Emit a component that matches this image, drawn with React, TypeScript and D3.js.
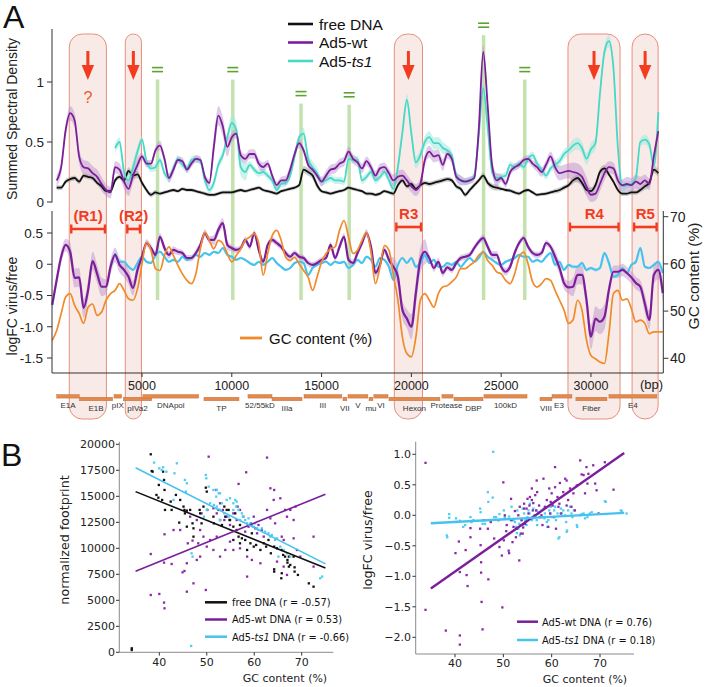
import React from "react";
import * as d3 from "d3";

// ---- panel A: smoothed tracks along the Ad5 genome, one value every STEP bp ----
const STEP = 250;

const wtSsdStart = 250;
const wtSsd = [
  0.18, 0.29, 0.6, 0.74, 0.68, 0.38, 0.29, 0.28,
  0.24, 0.21, 0.15, 0.1, 0.08, 0.29, 0.27, 0.17,
  0.11, 0.22, 0.31, 0.38, 0.32, 0.32, 0.43, 0.47,
  0.36, 0.2, 0.27, 0.35, 0.34, 0.27, 0.32, 0.36,
  0.35, 0.21, 0.16, 0.46, 0.72, 0.63, 0.46, 0.54,
  0.57, 0.39, 0.36, 0.4, 0.4, 0.32, 0.29, 0.32,
  0.22, 0.14, 0.18, 0.18, 0.27, 0.4, 0.49, 0.43,
  0.31, 0.27, 0.22, 0.17, 0.22, 0.27, 0.28, 0.32,
  0.34, 0.42, 0.36, 0.33, 0.28, 0.34, 0.29, 0.22,
  0.28, 0.29, 0.24, 0.18, 0.21, 0.22, 0.18, 0.13,
  0.1, 0.15, 0.35, 0.42, 0.38, 0.39, 0.31, 0.4,
  0.36, 0.21, 0.18, 0.17, 0.18, 0.2, 0.6, 1.25,
  0.8, 0.3, 0.18, 0.2, 0.15, 0.25, 0.29, 0.31,
  0.35, 0.36, 0.32, 0.29, 0.25, 0.31, 0.38, 0.29,
  0.24, 0.25, 0.26, 0.25, 0.24, 0.21, 0.13, 0.06,
  0.07, 0.15, 0.24, 0.29, 0.28, 0.18, 0.14, 0.15,
  0.14, 0.17, 0.15, 0.18, 0.15, 0.38, 0.59,
];

const freeSsdStart = 250;
const freeSsd = [
  0.12, 0.12, 0.17, 0.19, 0.2, 0.17, 0.22, 0.21,
  0.2, 0.16, 0.13, 0.09, 0.09, 0.18, 0.21, 0.18,
  0.26, 0.22, 0.23, 0.16, 0.1, 0.06, 0.08, 0.07,
  0.08, 0.09, 0.1, 0.09, 0.11, 0.1, 0.1, 0.09,
  0.08, 0.07, 0.06, 0.06, 0.07, 0.08, 0.08, 0.08,
  0.09, 0.1, 0.09, 0.1, 0.11, 0.12, 0.1, 0.09,
  0.08, 0.07, 0.09, 0.1, 0.11, 0.12, 0.14, 0.27,
  0.25, 0.22, 0.14, 0.09, 0.08, 0.07, 0.08, 0.09,
  0.1, 0.12, 0.11, 0.1, 0.09, 0.07, 0.07, 0.06,
  0.07, 0.09, 0.08, 0.07, 0.14, 0.18, 0.13, 0.15,
  0.11, 0.14, 0.16, 0.15, 0.16, 0.17, 0.18, 0.19,
  0.18, 0.13, 0.11, 0.06, 0.1, 0.14, 0.18, 0.22,
  0.16, 0.13, 0.12, 0.11, 0.1, 0.095, 0.08, 0.07,
  0.09, 0.1, 0.08, 0.06, 0.065, 0.07, 0.08, 0.09,
  0.1, 0.12, 0.14, 0.18, 0.2, 0.16, 0.1, 0.09,
  0.14, 0.25, 0.28, 0.23, 0.17, 0.1, 0.07, 0.07,
  0.08, 0.08, 0.1, 0.13, 0.16, 0.27, 0.24,
];

const ts1SsdStart = 3500;
const ts1Ssd = [
  0.45, 0.5, 0.25, 0.18, 0.29, 0.42, 0.52, 0.34,
  0.28, 0.29, 0.35, 0.24, 0.2, 0.28, 0.36, 0.31,
  0.28, 0.35, 0.36, 0.34, 0.18, 0.1, 0.16, 0.31,
  0.39, 0.54, 0.66, 0.6, 0.29, 0.25, 0.31, 0.27,
  0.24, 0.25, 0.22, 0.18, 0.1, 0.15, 0.16, 0.22,
  0.38, 0.54, 0.57, 0.36, 0.29, 0.24, 0.17, 0.18,
  0.2, 0.18, 0.18, 0.17, 0.36, 0.35, 0.35, 0.18,
  0.21, 0.25, 0.18, 0.21, 0.25, 0.18, 0.11, 0.29,
  0.58, 0.85, 0.57, 0.33, 0.39, 0.5, 0.54, 0.49,
  0.49, 0.45, 0.43, 0.39, 0.22, 0.18, 0.17, 0.18,
  0.22, 0.55, 0.95, 0.62, 0.25, 0.2, 0.21, 0.22,
  0.31, 0.29, 0.32, 0.29, 0.36, 0.39, 0.32, 0.27,
  0.22, 0.28, 0.31, 0.34, 0.4, 0.43, 0.47, 0.49,
  0.45, 0.36, 0.44, 0.49, 0.9, 1.25, 1.34, 1.12,
  0.45, 0.13, 0.14, 0.15, 0.2, 0.5, 0.52, 0.48,
  0.3, 0.75,
];

const wtFcStart = 0;
const wtFc = [
  -0.65, -0.25, 0.12, 0.31, 0.2, -0.22, -0.21, -0.7,
  -0.41, 0.05, -0.15, -0.36, -0.36, -0.04, 0.15, -0.01,
  -0.09, -0.2, -0.38, -0.09, 0.12, 0.34, 0.26, 0.15,
  0.44, 0.26, 0.15, 0.23, 0.2, 0.18, 0.1, 0.1,
  0.18, 0.31, 0.5, 0.39, 0.39, 0.55, 0.66, 0.31,
  0.26, 0.23, 0.26, 0.39, 0.28, 0.5, 0.23, 0.04,
  0.31, 0.39, 0.34, 0.28, 0.18, 0.12, 0.18, 0.12,
  0.1, 0.02, -0.01, 0.02, 0.07, 0.1, 0.31, 0.1,
  0.28, 0.44, 0.07, 0.02, 0.18, 0.34, 0.5, 0.28,
  -0.14, -0.01, 0.23, 0.07, -0.04, -0.2, -0.73, -0.87,
  -1.0, -0.46, 0.07, 0.2, 0.1, -0.06, 0.04, -0.14,
  -0.05, -0.09, 0.02, 0.1, 0.12, 0.15, 0.26, 0.36,
  0.42, 0.28, 0.15, 0.15, -0.04, -0.12, -0.04, 0.18,
  0.34, 0.42, 0.28, 0.18, 0.15, 0.18, 0.34, 0.28,
  0.12, -0.06, -0.3, -0.37, -0.36, -0.17, -0.17, -0.57,
  -1.16, -0.87, -0.92, -0.84, -0.41, -0.12, -0.12, -0.09,
  -0.14, -0.21, -0.3, -0.36, -0.63, -0.89, -0.17, -0.09,
  -0.46,
];

const ts1FcStart = 3500;
const ts1Fc = [
  0.18, 0.04, 0.04, -0.04, -0.09, 0.02, 0.12, 0.04,
  0.02, 0.15, 0.2, 0.12, 0.04, 0.07, 0.04, 0.12,
  0.07, 0.1, 0.15, 0.12, 0.18, 0.15, 0.2, 0.18,
  0.26, 0.15, 0.12, 0.07, 0.1, 0.07, 0.02, -0.01,
  0.04, -0.01, 0.04, 0.1, 0.02, -0.04, -0.09, -0.06,
  0.02, 0.04, 0.02, -0.17, -0.06, -0.01, 0.02, 0.04,
  -0.01, 0.04, 0.02, 0.04, -0.06, -0.01, 0.07, 0.02,
  0.12, 0.07, -0.04, 0.1, 0.07, -0.04, -0.25, -0.01,
  0.1, 0.02, 0.1, -0.04, 0.02, 0.15, 0.02, 0.07,
  -0.04, -0.04, 0.02, -0.01, 0.04, -0.04, 0.04, 0.1,
  0.04, 0.1, 0.2, 0.12, 0.07, 0.02, -0.01, 0.04,
  0.07, 0.1, 0.15, 0.12, 0.12, 0.04, 0.07, 0.04,
  0.12, 0.18, -0.01, 0.04, -0.09, -0.01, -0.04, -0.04,
  0.02, -0.09, -0.06, -0.09, -0.06, 0.18, 0.02, -0.2,
  -0.17, -0.06, -0.14, -0.01, 0.04, 0.26, -0.04, -0.06,
  -0.01, 0.04, -0.14,
];

const gcStart = 0;
const gcContent = [
  43.8, 45.9, 49.5, 53, 53.7, 51.2, 49.5, 47.4,
  50.8, 51.5, 49.1, 49.8, 52.3, 53.7, 54.4, 55.8,
  54.4, 52.6, 52.3, 54.7, 60, 64.6, 62.9, 59,
  58.6, 61.8, 63.6, 61.8, 59.7, 57.9, 56.5, 55.8,
  57.9, 63.2, 66.7, 65, 63.2, 65, 64.3, 62.2,
  60.4, 61.8, 63.2, 65, 65.7, 66.4, 64.3, 57.6,
  62.2, 66, 67.1, 65, 61.4, 60.7, 61.4, 60,
  58.6, 57.2, 54.4, 57.2, 60.4, 62.2, 63.2, 63.6,
  67.1, 69.2, 65.7, 62.2, 62.9, 65, 66.7, 62.5,
  55.8, 59.3, 63.9, 62.9, 57.6, 52.3, 44.5, 41,
  40.3, 44.5, 52.3, 53.7, 52.3, 50.8, 53.7, 55.1,
  55.4, 56.2, 57.2, 59, 59, 59.7, 60.4, 61.8,
  62.5, 60.7, 59.7, 58.3, 57.9, 56.5, 55.8, 57.9,
  61.4, 62.5, 60, 56.2, 55.1, 55.8, 56.9, 56.5,
  54.4, 52.3, 50.2, 47.4, 48.1, 52.3, 50.2, 43.9,
  40.6, 39.9, 39.2, 38.9, 45.2, 53.7, 54.4, 52.3,
  52.6, 50.5, 47.7, 48.1, 47.4, 45.2, 45.6, 45.6,
  45.6,
];

// half widths of the shaded bands, one per kb
const wtSsdBand = [0.05, 0.06, 0.06, 0.05, 0.06, 0.03, 0.04, 0.03, 0.03, 0.08, 0.04, 0.04, 0.03, 0.04, 0.03, 0.04, 0.04, 0.04, 0.04, 0.05, 0.05, 0.05, 0.04, 0.03, 0.06, 0.03, 0.03, 0.04, 0.06, 0.08, 0.06, 0.05, 0.06, 0.05, 0.05];
const freeSsdBand = [0.02, 0.02, 0.02, 0.02, 0.03, 0.02, 0.015, 0.015, 0.015, 0.015, 0.015, 0.015, 0.015, 0.015, 0.03, 0.015, 0.015, 0.015, 0.015, 0.02, 0.02, 0.02, 0.02, 0.02, 0.025, 0.015, 0.015, 0.015, 0.02, 0.03, 0.03, 0.02, 0.02, 0.03, 0.03];
const ts1SsdBand = [0.03, 0.03, 0.03, 0.04, 0.05, 0.03, 0.03, 0.03, 0.03, 0.04, 0.07, 0.03, 0.03, 0.03, 0.05, 0.03, 0.03, 0.03, 0.03, 0.05, 0.05, 0.05, 0.04, 0.03, 0.04, 0.03, 0.03, 0.03, 0.04, 0.05, 0.05, 0.05, 0.03, 0.04, 0.05];
const wtFcBand = [0.1, 0.15, 0.15, 0.12, 0.12, 0.06, 0.06, 0.05, 0.06, 0.08, 0.05, 0.05, 0.05, 0.05, 0.05, 0.05, 0.06, 0.06, 0.06, 0.15, 0.2, 0.06, 0.05, 0.05, 0.06, 0.06, 0.05, 0.05, 0.1, 0.15, 0.2, 0.1, 0.1, 0.15, 0.15];
const ts1FcBand = [0.02, 0.02, 0.02, 0.02, 0.02, 0.02, 0.02, 0.02, 0.02, 0.02, 0.02, 0.02, 0.02, 0.02, 0.02, 0.02, 0.02, 0.02, 0.02, 0.02, 0.03, 0.02, 0.02, 0.02, 0.02, 0.02, 0.02, 0.02, 0.02, 0.03, 0.03, 0.03, 0.02, 0.02, 0.02];

// highlighted regions (bp)
const regionNames = ["(R1)", "(R2)", "R3", "R4", "R5"];
const regionStart = [950, 4070, 19050, 28720, 32290];
const regionEnd = [3020, 4970, 20620, 31620, 33740];

// conserved peaks marked with "="
const markerBp = [5866, 10056, 13855, 16536, 24022, 26313];
const markerTop = [1.02, 1.02, 0.82, 0.81, 1.39, 1.02];

// Ad5 transcription units
const geneNames = ["E1A", "E1B", "pIX", "pIVa2", "DNApol", "TP", "52/55kD", "IIIa", "III", "VII", "V", "mu", "VI", "Hexon", "Protease", "DBP", "100kD", "VIII", "E3", "Fiber", "E4"];
const geneStart = [250, 1510, 3440, 3960, 5050, 8450, 10900, 12240, 14020, 16190, 16470, 17640, 17910, 18750, 21700, 22370, 24040, 27160, 27830, 29160, 31000];
const geneEnd = [1510, 3370, 3870, 5540, 8160, 10400, 12240, 13910, 16130, 16410, 17580, 17860, 18700, 21590, 22320, 23990, 26440, 27830, 28940, 30890, 33670];
const geneRow = [0, 1, 0, 1, 0, 1, 0, 1, 0, 1, 0, 1, 0, 1, 0, 1, 0, 1, 0, 1, 0];

const bpTicks = [5000, 10000, 15000, 20000, 25000, 30000];

// ---- panel B: 1-kb windows, GC content vs footprint / logFC ----
const fitGc = [35, 75];
const fitFree = [15450, 8100];
const fitWt = [7800, 15200];
const fitTs1 = [17750, 8500];
const fitWtFc = [-1.2, 1.02];
const fitTs1Fc = [-0.13, 0.04];

const footFree: [number, number][] = [
  [38.2, 19040], [38.4, 17430], [38.6, 17370], [40.8, 17370], [41.0, 16570], [39.9, 16090], [39.4, 15130], [39.8, 14870],
  [41.1, 15610], [41.2, 13690], [42.4, 14490], [42.6, 13690], [40.6, 14650], [43.5, 15130], [44.4, 14650], [45.1, 14010],
  [45.3, 13690], [45.4, 13360], [45.8, 13620], [46.5, 13690], [47.0, 12400], [47.2, 11920], [48.5, 13690], [48.6, 13360],
  [48.9, 12400], [49.3, 14010], [49.8, 15830], [50.0, 15450], [50.1, 13690], [51.4, 13040], [51.5, 12400], [52.5, 13690],
  [52.8, 12720], [53.2, 12240], [53.7, 14010], [53.9, 13040], [54.2, 13690], [54.6, 13690], [54.9, 12720], [55.6, 10800],
  [56.0, 13360], [56.3, 11760], [56.7, 11120], [57.0, 10480], [57.4, 10960], [58.1, 10800], [58.5, 9840], [59.2, 10480],
  [59.5, 11440], [59.9, 10160], [60.4, 10320], [61.3, 9840], [62.0, 10480], [62.5, 10160], [63.0, 10800], [63.5, 9520],
  [64.2, 10160], [64.8, 10000], [65.8, 9840], [66.1, 9360], [66.5, 9200], [67.0, 8880], [67.3, 9200], [64.2, 7980],
  [64.2, 7760], [65.8, 7600], [65.7, 7120], [67.0, 8620], [67.3, 8240], [67.6, 8400], [68.5, 8170], [68.5, 7760],
  [71.5, 6630], [72.5, 6310], [68.3, 9200], [69.2, 7440], [47.2, 11120], [44.2, 12470], [45.8, 12080], [54.8, 12720],
  [55.6, 12080], [57.0, 12240], [34.2, 385], [34.2, 220],
];

const footWt: [number, number][] = [
  [50.4, 18810], [62.7, 18720], [58.3, 17310], [56.7, 16190], [63.4, 15770], [64.2, 15610], [52.0, 15610], [67.6, 13690],
  [38.2, 9450], [41.0, 8620], [42.6, 8490], [41.1, 11350], [38.2, 5510], [40.0, 5610], [41.0, 4780], [41.1, 4230],
  [44.9, 7690], [45.3, 7820], [47.2, 6630], [45.8, 5830], [49.8, 5990], [50.0, 10160], [51.4, 13850], [52.1, 13360],
  [52.8, 14330], [53.4, 13690], [53.7, 12720], [54.2, 13040], [54.9, 12240], [55.6, 13360], [56.3, 12720], [56.5, 14010],
  [57.0, 13690], [57.7, 13040], [58.1, 11600], [58.8, 12080], [59.3, 12400], [59.9, 13040], [60.2, 11920], [60.6, 11440],
  [60.9, 12240], [61.6, 11760], [62.0, 11120], [62.7, 13690], [63.4, 12880], [64.1, 14650], [64.4, 12400], [65.5, 14810],
  [65.8, 11120], [66.2, 10800], [66.5, 13690], [66.9, 13040], [68.3, 12720], [68.7, 14010], [68.3, 10960], [69.0, 9840],
  [72.5, 11120], [47.9, 12720], [48.6, 11760], [49.3, 11120], [50.7, 10800], [51.4, 9840], [52.1, 11120], [48.9, 13360],
  [52.8, 9200], [53.9, 9840], [46.5, 13040], [47.0, 10740], [46.0, 10480], [44.4, 11760], [43.0, 11760], [48.2, 10480],
  [54.9, 10640], [55.6, 9840], [57.0, 10000], [58.5, 9200], [47.9, 8880], [45.8, 8560], [48.6, 9200], [59.5, 8880],
  [61.3, 8560], [64.8, 8720], [66.2, 8240], [66.9, 7440], [58.5, 7280], [69.7, 9200], [72.5, 8240],
];

const footTs1: [number, number][] = [
  [38.9, 18240], [40.0, 17690], [40.5, 17530], [41.5, 17370], [40.8, 17790], [43.7, 18170], [43.2, 17210], [43.0, 14650],
  [45.4, 16570], [45.8, 16250], [45.6, 15450], [46.8, 9520], [47.0, 9200], [49.8, 17050], [49.9, 16730], [50.4, 15930],
  [51.4, 15610], [52.1, 15610], [52.5, 15290], [52.8, 15290], [52.0, 14970], [51.5, 14170], [52.1, 14010], [52.8, 13690],
  [53.2, 14330], [54.2, 14650], [54.9, 14810], [55.6, 14330], [56.0, 14650], [56.2, 14010], [56.7, 13690], [57.0, 12720],
  [57.4, 13360], [57.6, 13040], [58.1, 12720], [58.5, 12400], [58.8, 12880], [59.2, 12400], [59.5, 12240], [59.9, 12080],
  [60.2, 12400], [60.6, 11920], [60.9, 11760], [61.6, 11920], [62.3, 11600], [63.0, 11440], [63.4, 11120], [63.7, 11280],
  [64.4, 10800], [64.8, 10960], [65.5, 10160], [66.2, 9840], [66.9, 9520], [65.1, 9200], [67.6, 9200], [73.9, 7120],
  [74.3, 7280], [46.7, 610], [55.6, 13690], [56.3, 14490], [50.7, 14330], [50.0, 13690], [49.4, 13040], [52.8, 12720],
  [53.7, 13360], [54.6, 13040],
];

const fcWt: [number, number][] = [
  [33.9, 0.86], [33.9, -1.55], [38.1, -1.89], [40.1, -0.62], [40.8, -0.43], [41.0, -0.93], [41.0, -1.97], [41.0, -2.12],
  [42.2, -0.57], [42.4, -0.98], [42.6, -1.16], [43.2, -0.36], [43.2, -0.21], [45.2, -0.22], [45.3, -0.49], [45.4, -0.77],
  [45.4, -0.94], [45.5, -1.42], [45.7, -1.87], [45.9, -0.08], [46.8, -0.22], [46.9, -1.05], [47.4, -0.11], [48.1, -0.38],
  [49.0, -0.08], [49.2, -0.52], [49.7, -0.66], [49.8, -1.51], [50.0, 0.54], [50.1, -0.41], [50.3, 0], [50.6, -0.26],
  [50.7, -0.16], [51.1, -0.58], [51.2, -0.62], [51.6, 0.27], [51.7, -0.08], [51.9, -0.44], [52.1, -0.19], [52.4, 0.07],
  [52.6, -0.36], [52.8, -0.22], [53.1, 0], [53.3, -0.74], [53.4, 0.14], [53.6, -0.3], [53.8, -0.08], [54.0, -0.3],
  [54.1, -0.2], [54.3, 0.11], [54.3, 0.19], [54.5, -0.14], [54.8, 0.11], [55.0, 0.27], [55.2, 0.03], [55.4, 0.16],
  [55.5, 0.3], [55.9, 0.25], [55.9, 0.44], [56.1, 0.08], [56.2, 0.2], [56.6, 0.33], [56.8, 0.08], [56.9, 0.57],
  [57.0, 0.38], [57.4, 0.16], [57.6, -0.03], [57.9, 0], [58.1, -0.16], [58.3, 0.6], [58.6, 0.14], [59.0, 0.25],
  [59.3, -0.19], [59.5, 0.44], [59.7, 0.03], [59.8, 0.22], [60.0, 0.36], [60.2, 0.16], [60.5, -0.03], [60.7, 0.79],
  [60.7, 0.46], [60.9, -0.22], [61.2, 0.3], [61.4, 0.14], [61.6, 0.19], [61.7, 0.53], [61.9, 0.03], [62.4, 0.38],
  [62.8, 0.6], [63.1, 0.57], [63.1, 0.16], [63.4, 0.25], [63.8, 0.44], [64.1, 0.14], [64.5, 0.36], [64.8, 0.08],
  [65.2, 0.49], [65.9, 0.9], [66.2, 0.67], [66.6, 0.66], [66.9, 0.36], [67.2, 0.79], [67.6, 0.68], [67.4, 0.52],
  [68.6, 0.82], [69.0, 0.52], [69.3, 0.41], [69.7, 0.03], [71.0, 0.87], [72.8, 0.42],
];

const fcTs1: [number, number][] = [
  [38.3, -0.33], [38.4, -0.36], [38.8, 0.02], [38.8, -0.04], [40.2, -0.05], [40.3, -0.11], [41.0, -0.09], [41.7, -0.19],
  [42.1, -0.16], [43.2, -0.03], [43.4, -0.11], [43.8, -0.08], [45.2, 0.11], [45.3, 0.05], [45.7, -0.14], [46.2, -0.14],
  [46.8, 0.38], [46.9, 0.22], [47.8, 0.29], [47.9, 1.04], [48.1, -0.03], [48.5, -0.03], [49.2, 0.02], [50.1, 0.08],
  [50.3, -0.03], [51.2, -0.02], [51.5, -0.08], [51.7, 0.14], [52.1, -0.08], [52.4, -0.11], [52.6, -0.19], [52.8, -0.29],
  [52.9, 0.08], [53.1, -0.22], [53.3, -0.14], [53.4, -0.33], [53.7, -0.08], [54.0, 0.11], [54.1, -0.16], [54.3, 0.03],
  [54.5, -0.09], [54.7, -0.08], [54.8, -0.16], [55.0, -0.03], [55.2, 0.08], [55.4, 0.03], [55.5, 0.19], [55.9, -0.08],
  [56.1, -0.05], [56.2, 0.11], [56.4, 0], [56.6, -0.03], [56.8, 0.08], [56.9, -0.08], [57.0, -0.16], [57.2, 0.05],
  [57.4, 0.03], [57.6, -0.03], [57.9, 0.08], [58.1, -0.03], [58.3, 0.11], [58.5, -0.05], [58.6, 0.03], [59.0, -0.11],
  [59.1, -0.19], [59.3, -0.08], [59.5, 0.08], [59.7, 0.03], [59.8, 0.14], [60.0, -0.03], [60.2, 0.19], [60.5, 0.08],
  [60.7, 0.14], [60.9, -0.08], [61.2, 0.03], [61.4, -0.38], [61.6, -0.36], [61.9, 0.11], [62.1, 0.03], [62.4, 0.08],
  [62.8, 0], [63.0, -0.11], [63.1, -0.27], [63.2, -0.25], [63.4, 0.08], [63.8, 0.14], [64.1, 0.03], [64.3, -0.03],
  [64.6, 0.08], [65.2, -0.16], [65.3, -0.19], [65.9, 0], [66.2, 0.02], [66.6, 0.03], [66.9, -0.05], [67.4, -0.03],
  [67.9, 0.03], [68.3, 0.05], [71.0, 0.23], [71.2, 0.22], [74.3, 0.08], [74.5, 0.07], [75.5, 0.03],
];

const footTicks = [0, 2500, 5000, 7500, 10000, 12500, 15000, 17500, 20000];
const fcTicks = [-2, -1.5, -1, -0.5, 0, 0.5, 1];
const gcTicks = [40, 50, 60, 70];

// ---- styling ----
const FONT = "'Liberation Sans', Arial, Helvetica, sans-serif";
const FONT_B = "'DejaVu Sans', Verdana, sans-serif";
const PURPLE = "#7b1e9a";
const TURQ = "#48d8c6";
const SKY = "#46c2ef";
const ORANGE = "#f08a2a";
const RED = "#f23b1f";
const AXIS = "#333";
const AXIS_B = "#8a8a8a";

const bandAt = (band: number[], bp: number) => band[Math.min(band.length - 1, Math.floor(bp / 1000))];

// small nudges so neighbouring gene names do not collide
const geneLabelNudge: Record<string, number> = { DBP: 5, E3: -3, Protease: -1 };

export default function App() {
  const x = d3.scaleLinear().domain([0, 34000]).range([52.2, 662.8]);
  const ySsd = d3.scaleLinear().domain([0, 1]).range([202, 82]);
  const yFc = d3.scaleLinear().domain([-1.5, 0.5]).range([358, 233]);
  const yGc = d3.scaleLinear().domain([40, 70]).range([358.3, 216.7]);

  const track = (start: number, vals: number[], y: d3.ScaleLinear<number, number>) =>
    d3.line<number>()
      .x((_, i) => x(start + i * STEP))
      .y((v) => y(v))
      .curve(d3.curveMonotoneX)(vals) || "";

  const band = (start: number, vals: number[], hw: number[], y: d3.ScaleLinear<number, number>) =>
    d3.area<number>()
      .x((_, i) => x(start + i * STEP))
      .y0((v, i) => y(v - bandAt(hw, start + i * STEP)))
      .y1((v, i) => y(v + bandAt(hw, start + i * STEP)))
      .curve(d3.curveMonotoneX)(vals) || "";

  // panel B scales
  const xL = d3.scaleLinear().domain([40, 70]).range([159.3, 301.7]);
  const yL = d3.scaleLinear().domain([0, 20000]).range([652.3, 444.3]);
  const xR = d3.scaleLinear().domain([40, 70]).range([455, 600]);
  const yR = d3.scaleLinear().domain([-2, 1]).range([637.3, 454.3]);

  const boxTop = 34;
  const boxBottom = 419;

  const dot = (px: number, py: number, color: string, key: string) => (
    <rect key={key} x={px - 1.15} y={py - 1.15} width={2.3} height={2.3} fill={color} />
  );

  const fmtFc = (v: number) => (v < 0 ? "\u2212" : "") + Math.abs(v).toFixed(1);

  return (
    <svg
      width={705}
      height={687}
      style={{ position: "absolute", left: 0, top: 0, background: "#fff" }}
      fontFamily={FONT}
    >
      <rect width={705} height={687} fill="#fff" />

      {/* highlighted regions */}
      {regionStart.map((s, i) => {
        const x0 = x(s);
        const w = x(regionEnd[i]) - x0;
        const r = Math.min(13, w / 2);
        return (
          <rect key={"box" + i} x={x0} y={boxTop} width={w} height={boxBottom - boxTop} rx={r} ry={r}
            fill="#f3d9d2" fillOpacity={0.55} stroke="#e7907f" strokeWidth={1} />
        );
      })}

      {/* conserved peak markers */}
      {markerBp.map((bp, i) => (
        <g key={"mk" + i}>
          <line x1={x(bp)} x2={x(bp)} y1={ySsd(markerTop[i])} y2={300} stroke="#c3e2ad" strokeWidth={3.5} />
          <line x1={x(bp) - 5.5} x2={x(bp) + 5.5} y1={ySsd(markerTop[i]) - 12} y2={ySsd(markerTop[i]) - 12} stroke="#5ca32f" strokeWidth={1.6} />
          <line x1={x(bp) - 5.5} x2={x(bp) + 5.5} y1={ySsd(markerTop[i]) - 8} y2={ySsd(markerTop[i]) - 8} stroke="#5ca32f" strokeWidth={1.6} />
        </g>
      ))}

      {/* red arrows */}
      {regionStart.map((s, i) => {
        const cx = x((s + regionEnd[i]) / 2);
        return (
          <g key={"ar" + i}>
            <line x1={cx} x2={cx} y1={51} y2={68} stroke={RED} strokeWidth={3} />
            <polygon points={`${cx - 6.2},65 ${cx + 6.2},65 ${cx},80`} fill={RED} />
          </g>
        );
      })}
      <text x={x((regionStart[0] + regionEnd[0]) / 2)} y={103} fontSize={16} fill="#f0552c" textAnchor="middle">?</text>

      {/* top panel: summed spectral density */}
      <path d={band(freeSsdStart, freeSsd, freeSsdBand, ySsd)} fill="#9a9a9a" fillOpacity={0.5} />
      <path d={band(ts1SsdStart, ts1Ssd, ts1SsdBand, ySsd)} fill="#9fe9df" fillOpacity={0.55} />
      <path d={band(wtSsdStart, wtSsd, wtSsdBand, ySsd)} fill="#b98ccc" fillOpacity={0.45} />
      <path d={track(freeSsdStart, freeSsd, ySsd)} fill="none" stroke="#111" strokeWidth={1.8} />
      <path d={track(ts1SsdStart, ts1Ssd, ySsd)} fill="none" stroke={TURQ} strokeWidth={1.8} />
      <path d={track(wtSsdStart, wtSsd, ySsd)} fill="none" stroke={PURPLE} strokeWidth={1.8} />

      <line x1={52} x2={52} y1={29} y2={202.5} stroke={AXIS} />
      {[0, 0.5, 1].map((t) => (
        <g key={"ts" + t}>
          <line x1={47} x2={52} y1={ySsd(t)} y2={ySsd(t)} stroke={AXIS} />
          <text x={44} y={ySsd(t) + 4.8} fontSize={13.5} textAnchor="end" fill="#222">{t}</text>
        </g>
      ))}
      <text transform="translate(17,119) rotate(-90)" fontSize={14} textAnchor="middle" fill="#222">Summed Spectral Density</text>

      {/* legend, top panel */}
      {[["free DNA", "#111"], ["Ad5-wt", PURPLE], ["Ad5-", TURQ]].map(([label, c], i) => (
        <g key={"lg" + i}>
          <line x1={288} x2={313} y1={24 + i * 18.5} y2={24 + i * 18.5} stroke={c} strokeWidth={2.6} />
          <text x={319} y={24 + i * 18.5 + 5.5} fontSize={15.5} fill="#111">
            {label}
            {i === 2 && <tspan fontStyle="italic">ts1</tspan>}
          </text>
        </g>
      ))}

      {/* bottom panel: logFC and GC content */}
      <path d={band(wtFcStart, wtFc, wtFcBand, yFc)} fill="#b98ccc" fillOpacity={0.45} />
      <path d={band(ts1FcStart, ts1Fc, ts1FcBand, yFc)} fill="#a8def5" fillOpacity={0.5} />
      <path d={track(ts1FcStart, ts1Fc, yFc)} fill="none" stroke={SKY} strokeWidth={2.2} />
      <path d={track(wtFcStart, wtFc, yFc)} fill="none" stroke={PURPLE} strokeWidth={2.2} />
      <path d={track(gcStart, gcContent, yGc)} fill="none" stroke={ORANGE} strokeWidth={1.7} />

      {/* region bars */}
      {regionStart.map((s, i) => {
        const x0 = x(s) + 2;
        const x1 = x(regionEnd[i]) - 1.5;
        const yb = i < 2 ? 229 : 227;
        return (
          <g key={"rb" + i}>
            <line x1={x0} x2={x1} y1={yb} y2={yb} stroke={RED} strokeWidth={2.6} />
            <line x1={x0} x2={x0} y1={yb - 4.5} y2={yb + 4.5} stroke={RED} strokeWidth={2.4} />
            <line x1={x1} x2={x1} y1={yb - 4.5} y2={yb + 4.5} stroke={RED} strokeWidth={2.4} />
            <text x={(x0 + x1) / 2} y={yb - 8.5} fontSize={15} fontWeight="bold" fill={RED} textAnchor="middle">
              {regionNames[i]}
            </text>
          </g>
        );
      })}

      <line x1={52} x2={52} y1={211} y2={373} stroke={AXIS} />
      <line x1={52} x2={663.3} y1={373} y2={373} stroke={AXIS} />
      <line x1={663.3} x2={663.3} y1={211} y2={373} stroke={AXIS} />
      {[0.5, 0, -0.5, -1, -1.5].map((t) => (
        <g key={"tf" + t}>
          <line x1={47} x2={52} y1={yFc(t)} y2={yFc(t)} stroke={AXIS} />
          <text x={43} y={yFc(t) + 4.8} fontSize={13.5} textAnchor="end" fill="#222">
            {t === 0 ? "0" : t === 0.5 ? "0.5" : t.toFixed(1)}
          </text>
        </g>
      ))}
      {[40, 50, 60, 70].map((t) => (
        <g key={"tg" + t}>
          <line x1={663.3} x2={668.3} y1={yGc(t)} y2={yGc(t)} stroke={AXIS} />
          <text x={670} y={yGc(t) + 5} fontSize={14} fill="#222">{t}</text>
        </g>
      ))}
      <text transform="translate(17,306) rotate(-90)" fontSize={14} textAnchor="middle" fill="#222">logFC virus/free</text>
      <text transform="translate(699,276) rotate(-90)" fontSize={15.5} textAnchor="middle" fill="#222">GC content (%)</text>

      <line x1={240} x2={262} y1={338} y2={338} stroke={ORANGE} strokeWidth={2.8} />
      <text x={269} y={343.5} fontSize={15} fill="#111">GC content (%)</text>

      {bpTicks.map((t) => (
        <g key={"tb" + t}>
          <line x1={x(t)} x2={x(t)} y1={373} y2={377} stroke={AXIS} />
          <text x={x(t)} y={390} fontSize={12.5} textAnchor="middle" fill="#222">{t}</text>
        </g>
      ))}
      <text x={663} y={388.5} fontSize={13} textAnchor="end" fill="#222">(bp)</text>

      {/* genome map */}
      {geneNames.map((g, i) => {
        const gy = geneRow[i] === 0 ? 394.5 : 397.2;
        const cx = (x(geneStart[i]) + x(geneEnd[i])) / 2 + (geneLabelNudge[g] || 0);
        return (
          <g key={"gn" + i}>
            <rect x={x(geneStart[i])} y={gy} width={x(geneEnd[i]) - x(geneStart[i])} height={3.6}
              fill="#e2894e" stroke="#c46c35" strokeWidth={0.4} />
            <text x={cx} y={geneRow[i] === 0 ? 408 : 410.5} fontSize={8} textAnchor="middle" fill="#333">{g}</text>
          </g>
        );
      })}

      {/* panel letters */}
      <text x={3} y={28} fontSize={32} fill="#111">A</text>
      <text x={1} y={466} fontSize={32} fill="#111">B</text>

      <g fontFamily={FONT_B}>
        {/* panel B, left: normalized footprint */}
        <line x1={119.3} x2={119.3} y1={441.7} y2={652.3} stroke={AXIS_B} />
        <line x1={119.3} x2={333.3} y1={652.3} y2={652.3} stroke={AXIS_B} />
        {footTicks.map((t) => (
          <g key={"fy" + t}>
            <line x1={116} x2={119.3} y1={yL(t)} y2={yL(t)} stroke={AXIS} />
            <text x={115} y={yL(t) + 4} fontSize={11} textAnchor="end" fill="#222">{t}</text>
          </g>
        ))}
        {gcTicks.map((t) => (
          <g key={"fx" + t}>
            <line x1={xL(t)} x2={xL(t)} y1={652.3} y2={655.6} stroke={AXIS} />
            <text x={xL(t)} y={665.5} fontSize={11} textAnchor="middle" fill="#222">{t}</text>
          </g>
        ))}
        {footWt.map(([g, v], i) => dot(xL(g), yL(v), "#8a2aa8", "fw" + i))}
        {footFree.map(([g, v], i) => dot(xL(g), yL(v), "#111", "ff" + i))}
        {footTs1.map(([g, v], i) => dot(xL(g), yL(v), "#4fcdf2", "ft" + i))}
        <line x1={xL(fitGc[0])} x2={xL(fitGc[1])} y1={yL(fitFree[0])} y2={yL(fitFree[1])} stroke="#111" strokeWidth={1.6} />
        <line x1={xL(fitGc[0])} x2={xL(fitGc[1])} y1={yL(fitWt[0])} y2={yL(fitWt[1])} stroke={PURPLE} strokeWidth={1.6} />
        <line x1={xL(fitGc[0])} x2={xL(fitGc[1])} y1={yL(fitTs1[0])} y2={yL(fitTs1[1])} stroke={SKY} strokeWidth={1.6} />
        <text transform="translate(69,540) rotate(-90)" fontSize={12.7} textAnchor="middle" fill="#222">normalized footprint</text>
        <text x={285} y={682} fontSize={11} textAnchor="middle" fill="#222">GC content (%)</text>
        {[["free DNA (r = -0.57)", "#111", ""], ["Ad5-wt DNA (r = 0.53)", PURPLE, ""], ["Ad5-", SKY, " DNA (r = -0.66)"]].map(([a, c, b], i) => (
          <g key={"bl" + i}>
            <line x1={205} x2={227} y1={602.3 + i * 17.2} y2={602.3 + i * 17.2} stroke={c} strokeWidth={2.5} />
            <text x={232} y={602.3 + i * 17.2 + 3.8} fontSize={9.8} fill="#111">
              {a}
              {i === 2 && <tspan fontStyle="italic">ts1</tspan>}
              {b}
            </text>
          </g>
        ))}

        {/* panel B, right: logFC */}
        <line x1={415.7} x2={415.7} y1={441.7} y2={654} stroke={AXIS_B} />
        <line x1={415.7} x2={634} y1={654} y2={654} stroke={AXIS_B} />
        {fcTicks.map((t) => (
          <g key={"ry" + t}>
            <line x1={412.4} x2={415.7} y1={yR(t)} y2={yR(t)} stroke={AXIS} />
            <text x={411} y={yR(t) + 4} fontSize={11} textAnchor="end" fill="#222">{fmtFc(t)}</text>
          </g>
        ))}
        {gcTicks.map((t) => (
          <g key={"rx" + t}>
            <line x1={xR(t)} x2={xR(t)} y1={654} y2={657.3} stroke={AXIS} />
            <text x={xR(t)} y={667} fontSize={11} textAnchor="middle" fill="#222">{t}</text>
          </g>
        ))}
        {fcTs1.map(([g, v], i) => dot(xR(g), yR(v), "#4fcdf2", "rt" + i))}
        {fcWt.map(([g, v], i) => dot(xR(g), yR(v), "#8a2aa8", "rw" + i))}
        <line x1={xR(fitGc[0])} x2={xR(fitGc[1])} y1={yR(fitWtFc[0])} y2={yR(fitWtFc[1])} stroke={PURPLE} strokeWidth={2.4} />
        <line x1={xR(fitGc[0])} x2={xR(fitGc[1])} y1={yR(fitTs1Fc[0])} y2={yR(fitTs1Fc[1])} stroke={SKY} strokeWidth={2.4} />
        <text transform="translate(372,540) rotate(-90)" fontSize={12.7} textAnchor="middle" fill="#222">logFC virus/free</text>
        <text x={585} y={683} fontSize={11} textAnchor="middle" fill="#222">GC content (%)</text>
        {[["Ad5-wt DNA (r = 0.76)", PURPLE, ""], ["Ad5-", SKY, " DNA (r = 0.18)"]].map(([a, c, b], i) => (
          <g key={"br" + i}>
            <line x1={517} x2={538} y1={621.7 + i * 18.3} y2={621.7 + i * 18.3} stroke={c} strokeWidth={2.5} />
            <text x={542} y={621.7 + i * 18.3 + 3.8} fontSize={9.8} fill="#111">
              {a}
              {i === 1 && <tspan fontStyle="italic">ts1</tspan>}
              {b}
            </text>
          </g>
        ))}
      </g>
    </svg>
  );
}
